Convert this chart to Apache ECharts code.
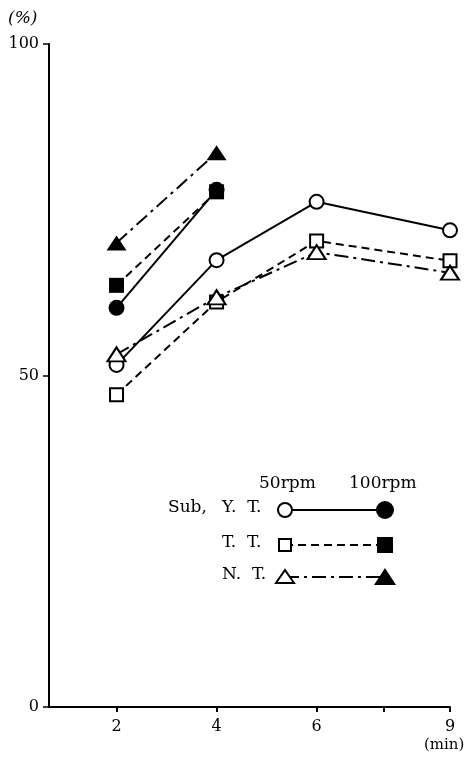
<!DOCTYPE html>
<html><head><meta charset="utf-8">
<script src="https://cdn.jsdelivr.net/npm/echarts@6/dist/echarts.min.js"></script>
<style>html,body{margin:0;padding:0;background:#fff}#c{width:470px;height:760px}</style>
</head><body><div id="c"></div>
<script>
const minutes = [2, 4, 6, 9];
const minutes100 = [2, 4];
const ytSub50 = [51.6, 67.4, 76.2, 71.9];
const ytSub100 = [60.2, 78.0];
const tt50 = [47.1, 61.1, 70.3, 67.3];
const tt100 = [63.6, 77.7];
const nt50 = [53.2, 61.8, 68.6, 65.5];
const nt100 = [70.0, 83.6];
const xTickMinutes = [2, 4, 6, 7.5, 9];
const xLabelMinutes = [2, 4, 6, 9];
const rowLabels = ['Y.  T.', 'T.  T.', 'N.  T.'];
const colLabels = ['50rpm', '100rpm'];

// the original figure compresses the time axis beyond 6 min
const axisPos = m => m <= 6 ? m : 6 + (m - 6) * 8 / 9;
const axisInv = t => t <= 6 ? t : 6 + (t - 6) * 9 / 8;

const FONT = 'DejaVu Serif';
const DASH = [8, 5];
const DASHDOT = [14, 5, 3, 5];

function mk(name, xs, ys, symbol, filled, dash) {
  let size = filled ? 16 : 14;
  if (symbol === 'rect') size = filled ? 15 : 13;
  if (symbol === 'triangle') size = filled ? [20, 15] : [18, 14];
  return {
    name, type: 'line',
    data: xs.map((m, i) => [axisPos(m), ys[i]]),
    symbol, symbolSize: size, showSymbol: true,
    lineStyle: { color: '#000', width: 2, type: dash },
    itemStyle: { color: filled ? '#000' : '#fff', borderColor: '#000', borderWidth: filled ? 0 : 2 },
    emphasis: { disabled: true }, animation: false, z: filled ? 3 : 2
  };
}

const chart = echarts.init(document.getElementById('c'), null, { renderer: 'canvas' });

const legX1 = 285, legX2 = 385, rowsY = [510, 545, 577];
const styles = [
  { sym: 'circle', dash: null },
  { sym: 'rect', dash: DASH },
  { sym: 'triangle', dash: DASHDOT }
];
function marker(sym, cx, cy, filled) {
  const st = filled ? { fill: '#000' } : { fill: '#fff', stroke: '#000', lineWidth: 2 };
  const h = filled ? 9 : 7;
  if (sym === 'circle') return { type: 'circle', shape: { cx, cy, r: h }, style: st, z: 10 };
  if (sym === 'rect') return { type: 'rect', shape: { x: cx - h + 1, y: cy - h + 1, width: 2 * h - 2, height: 2 * h - 2 }, style: st, z: 10 };
  return { type: 'polygon', shape: { points: [[cx, cy - h], [cx + h + 2, cy + h - 1], [cx - h - 2, cy + h - 1]] }, style: st, z: 10 };
}
const graphic = [
  { type: 'text', left: 8, top: 10, style: { text: '(%)', font: 'italic 17px ' + FONT, fill: '#000' } },
  { type: 'text', left: 424, top: 738, style: { text: '(min)', font: '15px ' + FONT, fill: '#000' } },
  { type: 'text', left: 259, top: 475, style: { text: colLabels[0], font: '17px ' + FONT, fill: '#000' } },
  { type: 'text', left: 349, top: 475, style: { text: colLabels[1], font: '17px ' + FONT, fill: '#000' } },
  { type: 'text', left: 168, top: rowsY[0] - 11, style: { text: 'Sub,', font: '17px ' + FONT, fill: '#000' } }
];
rowLabels.forEach((lab, i) => {
  const y = rowsY[i];
  graphic.push({ type: 'text', left: 222, top: y - 11, style: { text: lab, font: '17px ' + FONT, fill: '#000' } });
  const ls = { stroke: '#000', lineWidth: 2 };
  if (styles[i].dash) ls.lineDash = styles[i].dash;
  graphic.push({ type: 'line', shape: { x1: legX1, y1: y, x2: legX2, y2: y }, style: ls, z: 5 });
  graphic.push(marker(styles[i].sym, legX1, y, false));
  graphic.push(marker(styles[i].sym, legX2, y, true));
});

chart.setOption({
  animation: false,
  backgroundColor: '#fff',
  grid: { left: 49, right: 20, top: 44, bottom: 53 },
  xAxis: {
    type: 'value', min: 0.65, max: axisPos(9),
    axisLine: { show: true, lineStyle: { color: '#000', width: 2 } },
    splitLine: { show: false },
    axisTick: { show: true, length: 5, lineStyle: { color: '#000', width: 2 },
      customValues: xTickMinutes.map(axisPos) },
    axisLabel: { color: '#000', fontFamily: FONT, fontSize: 16, margin: 12,
      customValues: xLabelMinutes.map(axisPos),
      formatter: v => String(Math.round(axisInv(v))) }
  },
  yAxis: {
    type: 'value', min: 0, max: 100, interval: 50,
    axisLine: { show: true, lineStyle: { color: '#000', width: 2 } },
    splitLine: { show: false },
    axisTick: { show: true, length: 6, lineStyle: { color: '#000', width: 1.5 } },
    axisLabel: { color: '#000', fontFamily: FONT, fontSize: 16, margin: 10 }
  },
  series: [
    mk('Y.T. 50rpm', minutes, ytSub50, 'circle', false, 'solid'),
    mk('Y.T. 100rpm', minutes100, ytSub100, 'circle', true, 'solid'),
    mk('T.T. 50rpm', minutes, tt50, 'rect', false, DASH),
    mk('T.T. 100rpm', minutes100, tt100, 'rect', true, DASH),
    mk('N.T. 50rpm', minutes, nt50, 'triangle', false, DASHDOT),
    mk('N.T. 100rpm', minutes100, nt100, 'triangle', true, DASHDOT)
  ],
  graphic
});
</script>
</body></html>
